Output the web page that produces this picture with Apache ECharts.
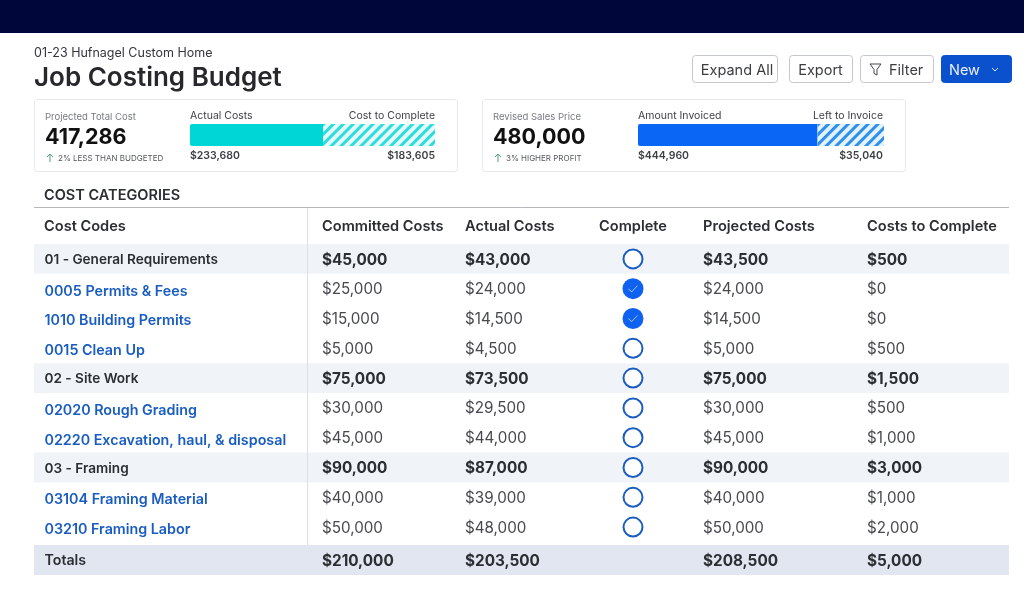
<!DOCTYPE html>
<html><head><meta charset="utf-8">
<style>html,body{margin:0;padding:0;background:#fff}#c{width:1024px;height:589px}</style>
<script src="https://cdn.jsdelivr.net/npm/echarts@6/dist/echarts.min.js"></script>
</head><body><div id="c"></div>
<script>
// ---- data ----
const projectName = '01-23 Hufnagel Custom Home';
const pageTitle = 'Job Costing Budget';
const sectionTitle = 'COST CATEGORIES';
const buttons = ['Expand All', 'Export', 'Filter', 'New'];
const headers = ['Cost Codes', 'Committed Costs', 'Actual Costs', 'Complete', 'Projected Costs', 'Costs to Complete'];
const rowNames = ['01 - General Requirements', '0005 Permits & Fees', '1010 Building Permits', '0015 Clean Up', '02 - Site Work', '02020 Rough Grading', '02220 Excavation, haul, & disposal', '03 - Framing', '03104 Framing Material', '03210 Framing Labor'];
const isGroup = [1, 0, 0, 0, 1, 0, 0, 1, 0, 0];
const committed = [45000, 25000, 15000, 5000, 75000, 30000, 45000, 90000, 40000, 50000];
const actual = [43000, 24000, 14500, 4500, 73500, 29500, 44000, 87000, 39000, 48000];
const complete = [0, 1, 1, 0, 0, 0, 0, 0, 0, 0];
const projected = [43500, 24000, 14500, 5000, 75000, 30000, 45000, 90000, 40000, 50000];
const toComplete = [500, 0, 0, 500, 1500, 500, 1000, 3000, 1000, 2000];
const totalsName = ['Totals'];
const totals = [210000, 203500, 208500, 5000];
const costSolid = [54.3];
const costHatched = [45.7];
const invoiceSolid = [73];
const invoiceHatched = [27];

// ---- layout ----
const FONT = 'Inter, "Noto Sans", sans-serif';
const colX = [44, 322, 465, 633, 703, 867];
const money = v => '$' + v.toLocaleString('en-US');
const DARK = '#2b2e33', BODY = '#46494e', BLUE = '#1a5dc0';

function T(x, y, text, size, weight, fill, align, extra) {
  return { type: 'text', x, y: y + 1, silent: true, z: 20,
    style: Object.assign({ text, font: `${weight} ${size}px ${FONT}`, fill, align: align || 'left', verticalAlign: 'middle' }, extra || {}) };
}
function box(x, y, w, h, stroke, fill, r, z) {
  return { type: 'rect', silent: true, z: z === undefined ? 5 : z, shape: { x: x + .5, y: y + .5, width: w - 1, height: h - 1, r: r || 2 }, style: { fill: fill || '#fff', stroke: stroke, lineWidth: 1 } };
}
function stroke(x, y, points, color, closed) {
  return { type: closed ? 'polygon' : 'polyline', silent: true, z: 20, x, y, shape: { points }, style: { fill: 'none', stroke: color, lineWidth: 1 } };
}
function upArrow(x, y) {
  return [stroke(x, y, [[4, 9], [4, 1]], '#4f9f86'), stroke(x, y, [[1, 4], [4, 1], [7, 4]], '#4f9f86')];
}
function card(x, label, big, arrowNote, a, b, aVal, bVal) {
  const bx = x + 156, bxR = x + 401;
  return [
    box(x, 99, 424, 73, '#e5e8ed', '#fff', 3, 0),
    T(x + 11, 116, label, 9.5, 400, '#777b80'),
    T(x + 11, 136.5, big, 21.5, 700, '#111'),
    ...upArrow(x + 12, 153),
    T(x + 24, 157.5, arrowNote, 8, 400, '#55595e'),
    T(bx, 114.5, a, 10.5, 400, '#3c3f44'),
    T(bxR, 114.5, b, 10.5, 400, '#3c3f44', 'right'),
    T(bx, 154.5, aVal, 10.5, 600, '#3c3f44'),
    T(bxR, 154.5, bVal, 10.5, 600, '#3c3f44', 'right')
  ];
}

const graphics = [
  { type: 'rect', silent: true, z: 1, shape: { x: 0, y: 0, width: 1024, height: 33 }, style: { fill: '#00063a' } },
  T(34, 52, projectName, 12.5, 400, '#33363b'),
  T(34, 77.5, pageTitle, 26, 600, '#26282c'),
  box(692, 55, 86, 28, '#c4c8cc', '#fff', 3), T(737, 70, buttons[0], 14.5, 400, '#3b3e42', 'center'),
  box(789, 55, 64, 28, '#c4c8cc', '#fff', 3), T(820.5, 70, buttons[1], 14.5, 400, '#3b3e42', 'center'),
  box(860, 55, 74, 28, '#c4c8cc', '#fff', 3), T(889, 70, buttons[2], 14.5, 400, '#3b3e42'),
  stroke(870, 64, [[0, 0], [11, 0], [7, 5.5], [7, 11], [4, 9.5], [4, 5.5]], '#44474b', true),
  box(941, 55, 71, 28, '#0b50cc', '#0b50cc', 3), T(949, 70, buttons[3], 14.5, 400, '#e8f0ff'),
  stroke(992, 68, [[0, 0], [3, 3], [6, 0]], '#dbe6ff'),
  ...card(34, 'Projected Total Cost', '417,286', '2% LESS THAN BUDGETED', 'Actual Costs', 'Cost to Complete', '$233,680', '$183,605'),
  ...card(482, 'Revised Sales Price', '480,000', '3% HIGHER PROFIT', 'Amount Invoiced', 'Left to Invoice', '$444,960', '$35,040'),
  T(44, 195, sectionTitle, 14.5, 600, DARK),
  { type: 'line', silent: true, z: 10, shape: { x1: 34, y1: 207.5, x2: 1009, y2: 207.5 }, style: { stroke: '#b4b6b9', lineWidth: 1 } },
  { type: 'line', silent: true, z: 10, shape: { x1: 307.5, y1: 208, x2: 307.5, y2: 545 }, style: { stroke: '#dcdfe3', lineWidth: 1 } },
  ...headers.map((h, i) => T(colX[i], 226, h, 14.6, 600, DARK, i === 3 ? 'center' : 'left'))
];

const plainX = (g, min, max) => ({ type: 'value', gridIndex: g, min, max, show: false });
const plainY = (g, data) => ({ type: 'category', gridIndex: g, data, inverse: true, show: false });

function progress(g, solid, hatched, color, hatchBg, hatchColor) {
  return [
    { type: 'bar', xAxisIndex: g, yAxisIndex: g, stack: 'p' + g, data: solid, barWidth: '100%', silent: true, z: 3,
      itemStyle: { color, borderRadius: [2, 0, 0, 2] } },
    { type: 'bar', xAxisIndex: g, yAxisIndex: g, stack: 'p' + g, data: hatched, barWidth: '100%', silent: true, z: 3,
      itemStyle: { color: hatchBg, decal: { symbol: 'rect', color: hatchColor, symbolSize: 1, dashArrayX: [1, 0], dashArrayY: [3, 4], rotation: -Math.PI / 4 } } }
  ];
}
function cells(g, x, values, fmt, styleFor) {
  return { type: 'scatter', xAxisIndex: g, yAxisIndex: g, symbolSize: 1, silent: true, z: 6,
    itemStyle: { color: 'transparent', opacity: 1 },
    data: values.map((v, i) => ({ value: [x, i, v], label: Object.assign({ show: true, position: 'right', distance: 0, opacity: 1, formatter: () => fmt(v), fontFamily: FONT }, styleFor(i)) })) };
}
const numStyle = i => isGroup[i]
  ? { fontSize: 15.3, fontWeight: 700, color: DARK, offset: [-0.5, 1] }
  : { fontSize: 15.2, fontWeight: 400, color: BODY, offset: [-0.5, 1] };
const nameStyle = i => isGroup[i]
  ? { fontSize: 13.6, fontWeight: 600, color: DARK, offset: [0, 1] }
  : { fontSize: 14.3, fontWeight: 600, color: BLUE, offset: [0, 2.5] };
const totalStyle = () => ({ fontSize: 15.3, fontWeight: 700, color: DARK, offset: [-0.5, 1] });
const idx = arr => arr.map((_, i) => i);

const TBL = 2, TOT = 3;
const option = {
  animation: false,
  backgroundColor: '#fff',
  textStyle: { fontFamily: FONT },
  graphic: { elements: graphics },
  grid: [
    { left: 190, top: 124, width: 245, height: 22 },
    { left: 638, top: 124, width: 246, height: 22 },
    { left: 34, top: 244, width: 975, height: 298 },
    { left: 34, top: 545, width: 975, height: 30 }
  ],
  xAxis: [plainX(0, 0, 100), plainX(1, 0, 100), plainX(TBL, 34, 1009), plainX(TOT, 34, 1009)],
  yAxis: [plainY(0, ['cost']), plainY(1, ['invoice']), plainY(TBL, rowNames), plainY(TOT, totalsName)],
  series: [
    ...progress(0, costSolid, costHatched, '#00d6d6', '#e3fbfb', '#2fdcdc'),
    ...progress(1, invoiceSolid, invoiceHatched, '#0a66f5', '#e2f2fd', '#2f8fe8'),
    { type: 'bar', xAxisIndex: TBL, yAxisIndex: TBL, barWidth: '100%', silent: true, z: 1,
      itemStyle: { color: '#f0f3f8' }, data: isGroup.map(g => g ? 1009 : null) },
    { type: 'bar', xAxisIndex: TOT, yAxisIndex: TOT, barWidth: '100%', silent: true, z: 1,
      itemStyle: { color: '#e2e6f0' }, data: [1009] },
    cells(TBL, colX[0], rowNames, v => v, nameStyle),
    cells(TBL, colX[1], committed, money, numStyle),
    cells(TBL, colX[2], actual, money, numStyle),
    cells(TBL, colX[4], projected, money, numStyle),
    cells(TBL, colX[5], toComplete, money, numStyle),
    { type: 'scatter', xAxisIndex: TBL, yAxisIndex: TBL, symbol: 'circle', symbolSize: 19, silent: true, z: 6,
      itemStyle: { color: '#fff', borderColor: '#1a5dc0', borderWidth: 2, opacity: 1 },
      data: idx(complete).filter(i => !complete[i]).map(i => [colX[3], i]) },
    { type: 'scatter', xAxisIndex: TBL, yAxisIndex: TBL, symbol: 'circle', symbolSize: 21, silent: true, z: 6,
      itemStyle: { color: '#0f62f0', opacity: 1 },
      data: idx(complete).filter(i => complete[i]).map(i => [colX[3], i]) },
    { type: 'scatter', xAxisIndex: TBL, yAxisIndex: TBL, silent: true, z: 7, symbol: 'path://M0 5 L3.5 8.5 L10 1 L10 2 L3.5 9.5 L0 6 Z', symbolSize: [9, 7],
      itemStyle: { color: '#dfeaff', opacity: 1 },
      data: idx(complete).filter(i => complete[i]).map(i => [colX[3], i]) },
    cells(TOT, colX[0], totalsName, v => v, () => ({ fontSize: 14.2, fontWeight: 600, color: DARK, offset: [0, 1] })),
    cells(TOT, colX[1], [totals[0]], money, totalStyle),
    cells(TOT, colX[2], [totals[1]], money, totalStyle),
    cells(TOT, colX[4], [totals[2]], money, totalStyle),
    cells(TOT, colX[5], [totals[3]], money, totalStyle)
  ]
};
echarts.init(document.getElementById('c'), null, { renderer: 'canvas' }).setOption(option);
</script></body></html>
